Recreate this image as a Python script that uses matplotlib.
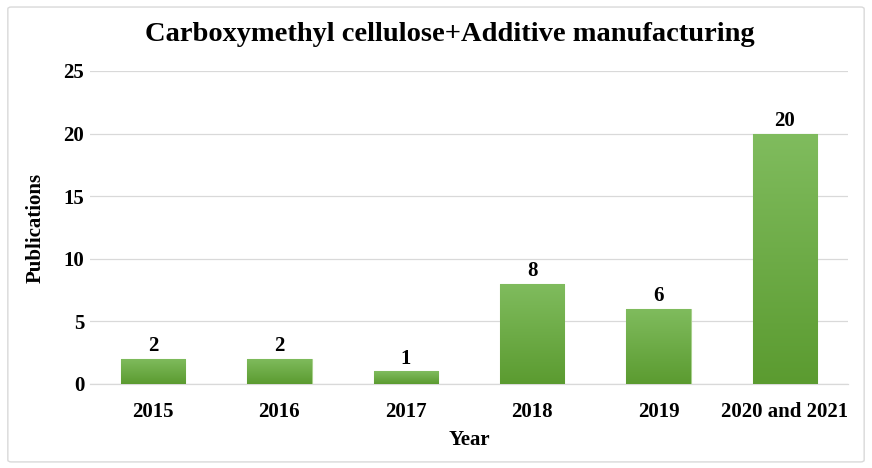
import matplotlib
matplotlib.use("Agg")
import matplotlib.pyplot as plt
import numpy as np
from matplotlib.patches import FancyBboxPatch
from matplotlib.colors import LinearSegmentedColormap

categories = ["2015", "2016", "2017", "2018", "2019", "2020 and 2021"]
values = [2, 2, 1, 8, 6, 20]
yticks = [0, 5, 10, 15, 20, 25]

plt.rcParams['font.family'] = ['Liberation Serif', 'DejaVu Serif']

fig = plt.figure(figsize=(8.72, 4.68), dpi=100)
ax = fig.add_axes([0.103, 0.1795, 0.8695, 0.6688])

# outer border
fig.patches.append(FancyBboxPatch((0.009, 0.013), 0.982, 0.972, boxstyle="round,pad=0,rounding_size=0.004",
                                  transform=fig.transFigure, fill=False, edgecolor="#d9d9d9", linewidth=1.0))

x = np.arange(len(categories))
bars = ax.bar(x, values, width=0.51, color="#6aab44", edgecolor="#a8d08d", linewidth=0.8, zorder=3)

grad = np.linspace(0, 1, 256).reshape(-1, 1)
cmap = LinearSegmentedColormap.from_list("g", ["#5b9b30", "#80bc5e"])
for b in bars:
    x0, y0 = b.get_x(), b.get_y()
    w, h = b.get_width(), b.get_height()
    im = ax.imshow(grad, extent=[x0, x0 + w, y0, y0 + h], origin="lower", cmap=cmap,
                   aspect="auto", zorder=3.5)
    im.set_clip_path(b)

for xi, v in zip(x, values):
    ax.text(xi, v + 0.2, str(v), ha="center", va="bottom", fontsize=15, fontweight="bold", zorder=5)

ax.set_xlim(-0.5, len(categories) - 0.5)
ax.set_ylim(0, 25)
ax.set_yticks(yticks)
ax.set_yticklabels([str(t) for t in yticks])
ax.set_xticks(x)
ax.set_xticklabels(categories)
ax.tick_params(axis="both", length=0, labelsize=15)
ax.tick_params(axis="x", pad=13)
ax.tick_params(axis="y", pad=4)
for lab in ax.get_xticklabels() + ax.get_yticklabels():
    lab.set_fontweight("bold")

ax.grid(axis="y", color="#d9d9d9", linewidth=0.9, zorder=0)
for s in ["top", "right", "left"]:
    ax.spines[s].set_visible(False)
ax.spines["bottom"].set_color("#d9d9d9")
ax.spines["bottom"].set_linewidth(0.9)

ax.set_xlabel("Year", fontsize=15, fontweight="bold", labelpad=6)
ax.set_ylabel("Publications", fontsize=15, fontweight="bold")
ax.yaxis.set_label_coords(-0.058, 0.5)
fig.text(0.516, 0.926, "Carboxymethyl cellulose+Additive manufacturing", ha="center", va="center",
         fontsize=20.5, fontweight="bold")

fig.savefig("out.png", dpi=100)
